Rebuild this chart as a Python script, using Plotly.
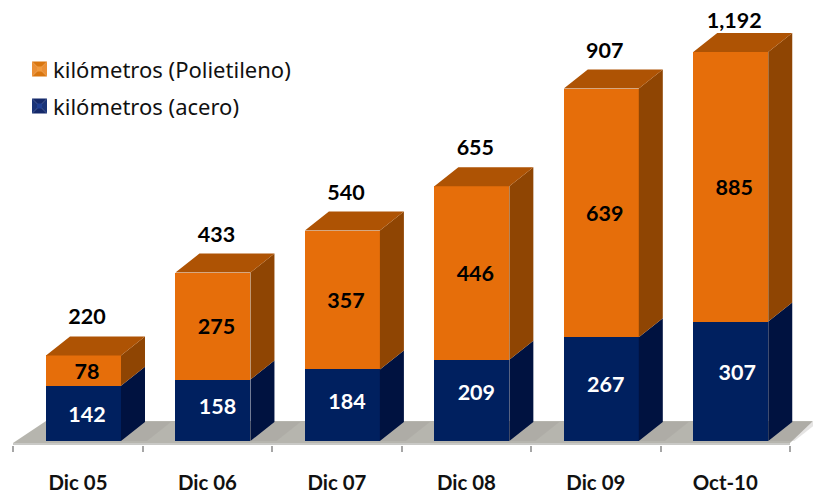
import plotly.graph_objects as go

categories = ["Dic 05", "Dic 06", "Dic 07", "Dic 08", "Dic 09", "Oct-10"]
acero = [142, 158, 184, 209, 267, 307]
polietileno = [78, 275, 357, 446, 639, 885]
totales = ["220", "433", "540", "655", "907", "1,192"]

AXIS_MAX = 1000            # the original chart's axis stops here, so the last bar is cut
W, H = 813, 493
PX_X = 129.45              # px per category
PX_Y = 0.389               # px per km
X0 = 78.0                  # px of the first category centre
Y0 = 441.0                 # px of value 0
BOTTOM = 445.0             # px of axis line
BAR_SHIFT = 5.5 / PX_X
BAR_W = 75 / PX_X
DX = 24 / PX_X
DY = 19 / PX_Y
LABEL_SHIFT = 9 / PX_X
LABEL_DROP = 7.5           # km, optical centring of the value labels
# the steel labels sit a little off centre in the original, by hand-placed amounts
ACERO_NUDGE_UP_PX = [0, 5, 5, 9, 5, 10]
ACERO_NUDGE_RIGHT_PX = [0, 1, 1, 1, 1, 3]

C_BLUE, C_BLUE_SIDE = "#00205f", "#001240"
C_OR, C_OR_SIDE, C_OR_TOP = "#e66e0a", "#8f4503", "#ae5304"
BOLD = "Lato"

idx = list(range(len(categories)))
bar_x = [i + BAR_SHIFT for i in idx]
tot_val = [a + p for a, p in zip(acero, polietileno)]
top = [min(t, AXIS_MAX) for t in tot_val]
base = [min(a, AXIS_MAX) for a in acero]
poly_drawn = [t - b for t, b in zip(top, base)]

fig = go.Figure()


def side(y0s, y1s):
    xs, ys = [], []
    for c, y0, y1 in zip(bar_x, y0s, y1s):
        r = c + BAR_W / 2
        xs += [r, r + DX, r + DX, r, r, None]
        ys += [y0, y0 + DY, y1 + DY, y1, y0, None]
    return xs, ys


def top_face(ys_):
    xs, ys = [], []
    for c, y in zip(bar_x, ys_):
        l, r = c - BAR_W / 2, c + BAR_W / 2
        xs += [l, l + DX, r + DX, r, l, None]
        ys += [y, y + DY, y + DY, y, y, None]
    return xs, ys


for (xs, ys), col in [
    (side([0] * 6, base), C_BLUE_SIDE),
    (side(base, top), C_OR_SIDE),
    (top_face(top), C_OR_TOP),
]:
    fig.add_trace(go.Scatter(x=xs, y=ys, mode="lines", fill="toself", fillcolor=col,
                             line=dict(width=0, color=col), hoverinfo="skip", showlegend=False))

fig.add_trace(go.Bar(x=bar_x, y=base, width=BAR_W, marker=dict(color=C_BLUE, line=dict(width=0)),
                     name="kilómetros (acero)", showlegend=False))
fig.add_trace(go.Bar(x=bar_x, y=poly_drawn, base=base, width=BAR_W, marker=dict(color=C_OR, line=dict(width=0)),
                     name="kilómetros (Polietileno)", showlegend=False))

lab_x = [i + LABEL_SHIFT for i in idx]
LABEL_FONT = dict(family=BOLD, size=21.5, weight="bold")
fig.add_trace(go.Scatter(x=[x + n / PX_X for x, n in zip(lab_x, ACERO_NUDGE_RIGHT_PX)],
                         y=[b / 2 - LABEL_DROP + n / PX_Y for b, n in zip(base, ACERO_NUDGE_UP_PX)],
                         mode="text", text=[str(v) for v in acero],
                         textposition="middle center", cliponaxis=False,
                         textfont=dict(color="white", **LABEL_FONT),
                         hoverinfo="skip", showlegend=False))
fig.add_trace(go.Scatter(x=lab_x, y=[b + d / 2 - LABEL_DROP for b, d in zip(base, poly_drawn)], mode="text",
                         text=[str(v) for v in polietileno], textposition="middle center", cliponaxis=False,
                         textfont=dict(color="black", **LABEL_FONT),
                         hoverinfo="skip", showlegend=False))
fig.add_trace(go.Scatter(x=lab_x, y=[min(t + 101, AXIS_MAX + 82) - LABEL_DROP for t in tot_val], mode="text",
                         text=totales, textposition="middle center", cliponaxis=False,
                         textfont=dict(color="black", **LABEL_FONT),
                         hoverinfo="skip", showlegend=False))

x_lo, x_hi = (0 - X0) / PX_X, (W - X0) / PX_X
y_hi = Y0 / PX_Y


def px_x(p):
    return (p - X0) / PX_X


def px_y(p):
    return (Y0 - p) / PX_Y


def poly(pts, col):
    path = "M " + " L ".join(f"{px_x(a)},{px_y(b)}" for a, b in pts) + " Z"
    return dict(type="path", path=path, xref="x", yref="y", layer="below", fillcolor=col, line=dict(width=0))


shapes = [
    poly([(13, 443), (46, 421), (813, 421), (790, 443)], "#b6b5ae"),
    poly([(13, 443), (790, 443), (790, 445), (13, 445)], "#c9c9c6"),
]
# soft shadow on the floor beside each bar
for c in bar_x:
    px = X0 + c * PX_X + 37.5
    shapes.append(poly([(px, 441), (px + 24, 422), (px + 50, 422), (px + 26, 441)], "rgba(150,149,142,0.25)"))


# legend swatches (bevelled squares); paper coordinates span the plot area, which ends at BOTTOM
def bevel(cx, cy, side_col, bottom_col, top_col, glow):
    s = 7.5
    res = []
    tri = [
        ([(-s, -s), (0, 0), (-s, s)], side_col),
        ([(s, -s), (0, 0), (s, s)], side_col),
        ([(-s, -s), (0, 0), (s, -s)], top_col),
        ([(-s, s), (0, 0), (s, s)], bottom_col),
        ([(-2.5, -2.5), (2.5, -2.5), (2.5, 2.5), (-2.5, 2.5)], glow),
    ]
    for pts, col in tri:
        p = "M " + " L ".join(f"{(cx + a) / W},{1 - (cy + b) / BOTTOM}" for a, b in pts) + " Z"
        res.append(dict(type="path", path=p, xref="paper", yref="paper", fillcolor=col, line=dict(width=0)))
    return res


LEG_Y = [69, 106]
LEG_TXT = ["kilómetros (Polietileno)", "kilómetros (acero)"]
LEG_COL = [("#ea8f35", "#d9760f", "#d9760f", "#f09a3e"), ("#1a3478", "#14296a", "#14296a", "#1f3f92")]
anns = []
for y, t, c in zip(LEG_Y, LEG_TXT, LEG_COL):
    shapes += bevel(39.5, y, *c)
    anns.append(dict(x=53 / W, y=1 - y / BOTTOM, xref="paper", yref="paper", text=t, showarrow=False,
                     xanchor="left", yanchor="middle", xshift=-2,
                     font=dict(family="Noto Sans", size=22, color="#111111")))

fig.update_layout(
    width=W, height=H, autosize=False, barmode="overlay", showlegend=False,
    paper_bgcolor="white", plot_bgcolor="rgba(0,0,0,0)", bargap=0,
    margin=dict(l=0, r=0, t=0, b=H - BOTTOM, pad=0),
    shapes=shapes, annotations=anns,
    xaxis=dict(range=[x_lo, x_hi], tickmode="array", tickvals=idx, ticktext=categories, ticks="",
               showgrid=False, zeroline=False, showline=False, ticklabelstandoff=24,
               minor=dict(tickmode="array", tickvals=[i - 0.5 for i in idx + [6]], ticks="outside",
                          ticklen=6, tickwidth=1.5, tickcolor="#a6a6a6", showgrid=False),
               tickfont=dict(family=BOLD, size=20.4, color="#111111", weight="bold")),
    yaxis=dict(range=[-(BOTTOM - Y0) / PX_Y, y_hi], visible=False, showgrid=False, zeroline=False),
)
fig.write_html("out.html", config=dict(displayModeBar=False),
               post_script="document.documentElement.style.margin='0';document.body.style.margin='0';"
                           "document.body.style.overflow='hidden';")
